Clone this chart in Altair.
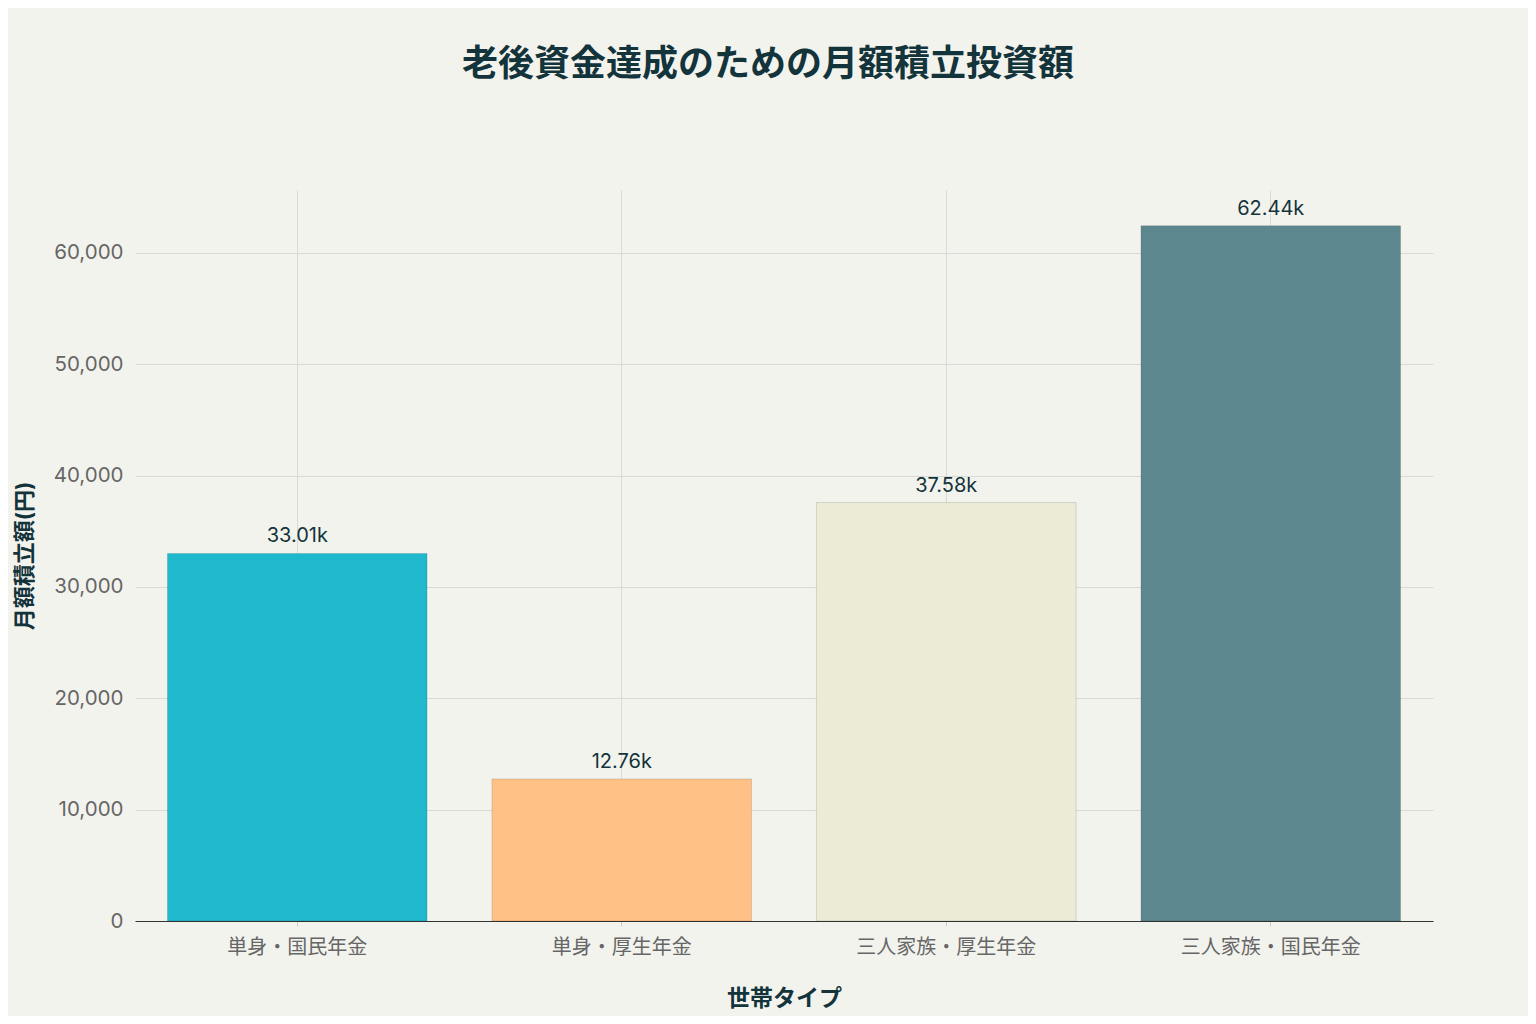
import altair as alt
import pandas as pd

categories = ["単身・国民年金", "単身・厚生年金", "三人家族・厚生年金", "三人家族・国民年金"]
values = [33010, 12760, 37580, 62440]
colors = ["#1FB8CD", "#FFC185", "#ECEBD5", "#5D878F"]

df = pd.DataFrame({"cat": categories, "val": values})

FONT = "Inter, 'Noto Sans CJK JP', sans-serif"

x = alt.X("cat:N", sort=categories, title="世帯タイプ",
          scale=alt.Scale(paddingInner=0.2, paddingOuter=0.1),
          axis=alt.Axis(labelAngle=0, labelFontSize=20, labelColor="#666666",
                        labelFont=FONT, labelPadding=11, tickSize=5, tickColor="#cccccc",
                        domainColor="#333333", domainWidth=1.2,
                        grid=True, gridColor="#d9d9d6", gridWidth=1,
                        titleFontSize=23, titleFont=FONT, titleFontWeight="bold",
                        titleColor="#13343B", titlePadding=30))
y = alt.Y("val:Q", title="月額積立額(円)",
          scale=alt.Scale(domain=[0, 65650], nice=False),
          axis=alt.Axis(values=[0, 10000, 20000, 30000, 40000, 50000, 60000], format=",.0f",
                        labelFontSize=20.5, labelColor="#666666", labelFont=FONT,
                        labelPadding=12, ticks=False, domain=False,
                        gridColor="#d9d9d6", gridWidth=1,
                        titleFontSize=22, titleFont=FONT, titleFontWeight="bold",
                        titleColor="#13343B", titlePadding=17))

bars = alt.Chart(df).mark_bar(stroke="#000000", strokeOpacity=0.12, strokeWidth=1).encode(
    x=x, y=y,
    color=alt.Color("cat:N", sort=categories,
                    scale=alt.Scale(domain=categories, range=colors), legend=None),
)

labels = alt.Chart(df).mark_text(dy=-17, fontSize=20, font=FONT, color="#13343B").encode(
    x=alt.X("cat:N", sort=categories), y="val:Q",
    text=alt.Text("val:Q", format=".4s"),
)

chart = (bars + labels).properties(
    width=1298, height=731,
    background="#F3F3EE",
    padding={"left": 127, "top": 182, "right": 95, "bottom": 95},
    autosize=alt.AutoSizeParams(type="none"),
    title=alt.TitleParams("老後資金達成のための月額積立投資額", fontSize=36, font=FONT,
                          fontWeight="bold", color="#13343B", anchor="middle",
                          offset=106, dx=-16),
).configure_view(stroke=None)

chart.save("out.html", embed_options={"renderer": "svg", "actions": False})
